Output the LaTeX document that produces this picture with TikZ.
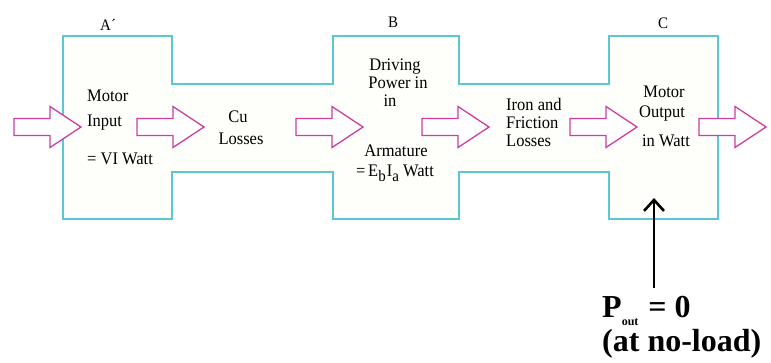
\documentclass[tikz,border=0pt]{standalone}
\usepackage{fontspec}
\setmainfont{Liberation Serif}
\usetikzlibrary{arrows.meta,calc}
\definecolor{outl}{RGB}{90,200,212}
\definecolor{arr}{RGB}{206,62,160}
\definecolor{paper}{RGB}{254,254,250}
\newcommand{\vstr}[1]{\scalebox{1}[1.07]{#1}}
\begin{document}
\begin{tikzpicture}[x=1pt,y=-1pt,
 txt/.style={font=\fontsize{16.5}{18}\selectfont, inner sep=0pt},
 lbl/.style={font=\fontsize{15}{16}\selectfont, inner sep=0pt},
 big/.style={font=\fontsize{32}{34}\selectfont\bfseries, inner sep=0pt},
 harrow/.pic={\draw[arr, line width=1.3pt, fill=white, line join=miter] (0,-8.5) -- (36,-8.5) -- (36,-20.5) -- (67,0) -- (36,20.5) -- (36,8.5) -- (0,8.5) -- cycle;}
]
\useasboundingbox (0,0) rectangle (771,363);
\fill[white] (0,0) rectangle (771,363);
\draw[outl, line width=1.3pt, fill=paper]
 (63,36) -- (172,36) -- (172,84) -- (333,84) -- (333,36) -- (459,36) -- (459,84)
 -- (609,84) -- (609,36) -- (718,36) -- (718,219) -- (609,219) -- (609,172)
 -- (459,172) -- (459,219) -- (333,219) -- (333,172) -- (172,172) -- (172,219)
 -- (63,219) -- cycle;
% labels
\node[lbl, anchor=base west] (lA) at (100,31) {\vstr{A´}};
\node[lbl, anchor=base] (lB) at (393,28) {\vstr{B}};
\node[lbl, anchor=base] (lC) at (663,29) {\vstr{C}};
% hollow arrows
\pic at (14,127) {harrow};
\pic at (137,127) {harrow};
\pic at (296,127) {harrow};
\pic at (422,127) {harrow};
\pic at (570,127) {harrow};
\pic at (699,127) {harrow};
% texts
\node[txt, anchor=base west] (t1) at (87,102) {\vstr{Motor}};
\node[txt, anchor=base west] (t2) at (87,127) {\vstr{Input}};
\node[txt, anchor=base west] (t3) at (87,165) {\vstr{= VI Watt}};
\node[txt, anchor=base] (t4) at (238,123) {\vstr{Cu}};
\node[txt, anchor=base] (t5) at (241,145) {\vstr{Losses}};
\node[txt, anchor=base] (t6) at (395,71) {\vstr{Driving}};
\node[txt, anchor=base] (t7) at (398,89) {\vstr{Power in}};
\node[txt, anchor=base] (t8) at (390,107) {\vstr{in}};
\node[txt, anchor=base] (t9) at (396,157) {\vstr{Armature}};
\node[txt, anchor=base] (t10) at (395,177) {\vstr{=\,E\raisebox{-4pt}{\fontsize{15}{15}\selectfont b}\kern1pt I\raisebox{-4pt}{\fontsize{15}{15}\selectfont a} Watt}};
\node[txt, anchor=base west] (t11) at (506,111) {\vstr{Iron and}};
\node[txt, anchor=base west] (t12) at (506,129) {\vstr{Friction}};
\node[txt, anchor=base west] (t13) at (506,147) {\vstr{Losses}};
\node[txt, anchor=base] (t14) at (664,98) {\vstr{Motor}};
\node[txt, anchor=base] (t15) at (662,118) {\vstr{Output}};
\node[txt, anchor=base] (t16) at (666,147) {\vstr{in Watt}};
% P_out
\coordinate (ptip) at (654,198);
\node[big, anchor=base west] (pout) at (602,317) {P\kern0pt\raisebox{-8pt}{\fontsize{12}{12}\selectfont\bfseries out}\kern10pt= 0};
\node[big, anchor=base west] (noload) at (602,352) {(at no-load)};
\coordinate (pstart) at ($(pout.north -| ptip)+(0,-8)$);
\draw[line width=2.6pt, -{Straight Barb[length=11pt,width=20pt]}] (pstart) -- (ptip);
\end{tikzpicture}
\end{document}
